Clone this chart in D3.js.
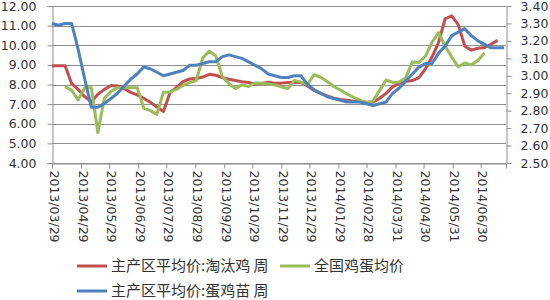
<!DOCTYPE html>
<html>
<head>
<meta charset="utf-8">
<script src="https://cdn.jsdelivr.net/npm/d3@7"></script>
<style>
  body { margin: 0; background: #fff; }
  text { font-family: "DejaVu Sans", sans-serif; fill: #333; }
</style>
</head>
<body>
<div id="chart"></div>
<script>
// weekly observations starting 2013/03/29
const firstWeek = new Date(2013, 2, 29);
const weeks = d3.range(70).map(i => d3.timeDay.offset(firstWeek, 7 * i));

const tickLabels = ["2013/03/29", "2013/04/29", "2013/05/29", "2013/06/29", "2013/07/29",
    "2013/08/29", "2013/09/29", "2013/10/29", "2013/11/29", "2013/12/29", "2014/01/29",
    "2014/02/28", "2014/03/31", "2014/04/30", "2014/05/31", "2014/06/30"];

const leftTicks = [4, 5, 6, 7, 8, 9, 10, 11, 12];
const rightTicks = [2.5, 2.6, 2.7, 2.8, 2.9, 3.0, 3.1, 3.2, 3.3, 3.4];

// 主产区平均价:淘汰鸡 周 (left axis)
const cullHen = [8.96, 8.96, 8.96, 8.05, 7.75, 7.38, 7.12, 7.5, 7.75, 7.95,
    7.93, 7.8, 7.6, 7.47, 7.3, 7.1, 6.85, 6.63, 7.58, 7.85,
    8.15, 8.28, 8.3, 8.38, 8.52, 8.47, 8.35, 8.27, 8.2, 8.14,
    8.1, 8.02, 8.05, 8.12, 8.06, 8.07, 8.1, 8.1, 8.11, 7.92,
    7.7, 7.55, 7.42, 7.3, 7.24, 7.2, 7.15, 7.12, 7.09, 7.1,
    7.3, 7.55, 7.89, 8.06, 8.15, 8.2, 8.35, 8.8, 9.4, 10.15,
    11.35, 11.5, 11.05, 9.95, 9.75, 9.85, 9.88, 10.05, 10.25, null];

// 全国鸡蛋均价 (left axis)
const eggPrice = [null, null, 7.89, 7.7, 7.22, 7.84, 7.84, 5.55, 7.3, 7.65,
    7.84, 7.84, 7.84, 7.84, 6.8, 6.67, 6.47, 7.6, 7.62, 7.75,
    7.95, 8.1, 8.2, 9.35, 9.7, 9.45, 8.4, 8.05, 7.8, 7.98,
    7.9, 8.08, 8.06, 8.02, 7.98, 7.88, 7.8, 8.2, 8.12, 8.0,
    8.5, 8.37, 8.15, 7.9, 7.72, 7.52, 7.35, 7.2, 7.08, 7.15,
    7.7, 8.23, 8.11, 8.13, 8.35, 9.15, 9.12, 9.45, 10.15, 10.65,
    9.95, 9.4, 8.9, 9.1, 9.0, 9.22, 9.6, null, null, null];

// 主产区平均价:蛋鸡苗 周 (right axis)
const chickPrice = [3.30, 3.29, 3.30, 3.30, 3.15, 2.98, 2.82, 2.82, 2.84, 2.87,
    2.90, 2.94, 2.98, 3.01, 3.05, 3.04, 3.02, 3.00, 3.01, 3.02,
    3.03, 3.06, 3.06, 3.07, 3.08, 3.08, 3.11, 3.12, 3.11, 3.10,
    3.08, 3.06, 3.04, 3.01, 3.00, 2.99, 2.99, 3.00, 3.00, 2.95,
    2.92, 2.90, 2.88, 2.87, 2.86, 2.85, 2.85, 2.85, 2.84, 2.83,
    2.84, 2.85, 2.90, 2.93, 2.97, 3.01, 3.05, 3.07, 3.07, 3.13,
    3.17, 3.23, 3.25, 3.27, 3.23, 3.20, 3.18, 3.16, 3.16, 3.16];

const W = 550, H = 300;
const plotL = 52, plotR = 506, plotT = 6, plotB = 163;

const svg = d3.select('#chart')
    .append('svg')
    .attr('width', W)
    .attr('height', H);

const parse = d3.timeParse("%Y/%m/%d");
const tickDates = tickLabels.map(parse);

const x = d3.scaleTime()
    .domain([firstWeek, new Date(2014, 6, 27)])
    .range([plotL, plotR]);

const yL = d3.scaleLinear().domain([4, 12]).range([plotB, plotT]);
const yR = d3.scaleLinear().domain([2.5, 3.4]).range([plotB, plotT]);

// gridlines
svg.append("g")
    .selectAll("line")
    .data(leftTicks)
    .enter()
    .append("line")
    .attr("x1", plotL)
    .attr("x2", plotR)
    .attr("y1", d => Math.round(yL(d)) + 0.5)
    .attr("y2", d => Math.round(yL(d)) + 0.5)
    .attr("stroke", "#8f8f8f")
    .attr("stroke-width", 1);

// axes
const axisL = svg.append("g")
    .attr("transform", `translate(${plotL + 0.5},0)`)
    .call(d3.axisLeft(yL).tickValues(leftTicks).tickFormat(d3.format(".2f")).tickSize(5).tickPadding(11));

const axisR = svg.append("g")
    .attr("transform", `translate(${plotR + 0.5},0)`)
    .call(d3.axisRight(yR).tickValues(rightTicks).tickFormat(d3.format(".2f")).tickSize(5).tickPadding(9));

const axisX = svg.append("g")
    .attr("transform", `translate(0,${plotB + 0.5})`)
    .call(d3.axisBottom(x).tickValues(tickDates).tickSize(5).tickFormat((d, i) => tickLabels[i]));

axisX.selectAll("text")
    .attr("y", 0)
    .attr("x", 7)
    .attr("dy", "3px")
    .attr("transform", "rotate(90)")
    .style("text-anchor", "start");

[axisL, axisR, axisX].forEach(a => {
    a.selectAll("path, line").attr("stroke", "#8f8f8f");
    a.selectAll("text").style("font-size", "12.5px").style("fill", "#333")
        .style("font-family", '"DejaVu Sans", sans-serif');
});

// series
const series = [
    { values: cullHen, y: yL, color: "#C0504D" },
    { values: eggPrice, y: yL, color: "#9BBB59" },
    { values: chickPrice, y: yR, color: "#4F81BD" }
];

series.forEach(s => {
    const line = d3.line()
        .defined(d => d != null)
        .x((d, i) => x(weeks[i]))
        .y(d => s.y(d));
    svg.append("path")
        .datum(s.values)
        .attr("d", line)
        .attr("fill", "none")
        .attr("stroke", s.color)
        .attr("stroke-width", 3)
        .attr("stroke-linejoin", "round");
});

// legend
const legendItems = [
    { label: "主产区平均价:淘汰鸡 周", color: "#C0504D", x: 77, y: 266 },
    { label: "全国鸡蛋均价", color: "#9BBB59", x: 280, y: 266 },
    { label: "主产区平均价:蛋鸡苗 周", color: "#4F81BD", x: 77, y: 291 }
];

const legend = svg.append("g")
    .selectAll("g")
    .data(legendItems)
    .enter()
    .append("g")
    .attr("transform", d => `translate(${d.x},${d.y})`);

legend.append("line")
    .attr("x1", 0)
    .attr("x2", 30)
    .attr("stroke", d => d.color)
    .attr("stroke-width", 3);

legend.append("text")
    .attr("x", 34)
    .attr("dy", "0.35em")
    .style("font-size", "15px")
    .style("font-family", '"Noto Sans CJK SC", sans-serif')
    .text(d => d.label);
</script>
</body>
</html>
